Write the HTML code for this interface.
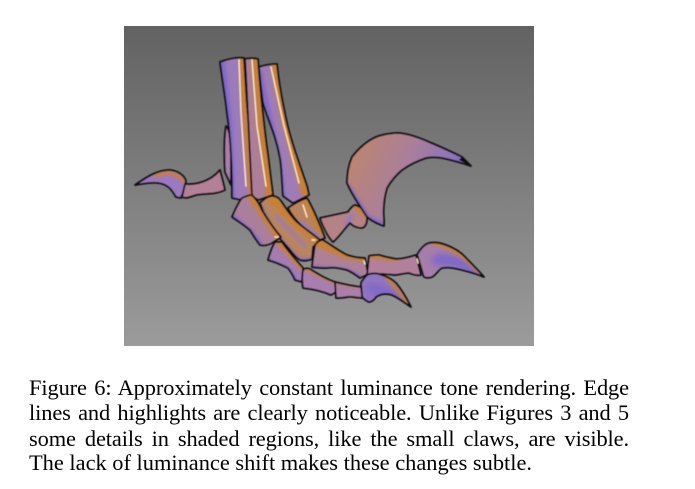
<!DOCTYPE html>
<html>
<head>
<meta charset="utf-8">
<style>
html,body{margin:0;padding:0;background:#fff;width:695px;height:489px;overflow:hidden}
svg{position:absolute;left:124px;top:26px}
.cap{position:absolute;left:29px;width:600px;font-family:"Liberation Serif",serif;font-size:22.4px;line-height:25px;color:#000;white-space:nowrap;text-align:justify;text-align-last:justify;letter-spacing:-0.1px}
.last{text-align:left;text-align-last:left;letter-spacing:0}
.o{fill:none;stroke:#08080e;stroke-width:1.8;stroke-linejoin:round}
.h{fill:none;stroke:#fbe8c6;stroke-width:1.4;stroke-linecap:round}
.or{fill:none;stroke:#c98030;filter:url(#band);stroke-linecap:round}
.pu{fill:none;stroke:#7f68cc;filter:url(#band);stroke-linecap:round}
.wide{fill:none;stroke:#7f68cc;filter:url(#wide);stroke-linecap:round}
.li{fill:none;stroke:#8f78cc;filter:url(#band);stroke-linecap:round}
</style>
</head>
<body>
<svg width="410" height="320" viewBox="124 26 410 320">
<defs>
<linearGradient id="bg" x1="0" y1="0" x2="0" y2="1"><stop offset="0" stop-color="#626262"/><stop offset="1" stop-color="#9b9b9b"/></linearGradient>
<linearGradient id="big" x1="0" y1=".3" x2=".9" y2=".6"><stop offset="0" stop-color="#bc856e"/><stop offset=".45" stop-color="#ac7f98"/><stop offset=".85" stop-color="#8e72bc"/><stop offset="1" stop-color="#7060b4"/></linearGradient>
<filter id="band" x="-40%" y="-40%" width="180%" height="180%"><feGaussianBlur stdDeviation="1.6"/></filter>
<filter id="wide" x="-60%" y="-60%" width="220%" height="220%"><feGaussianBlur stdDeviation="3.5"/></filter>
<filter id="soft" x="-5%" y="-5%" width="110%" height="110%"><feGaussianBlur stdDeviation="0.4"/></filter>
<path id="pS" d="M226,126 C230,130 231,140 231,165 L231,185 L225,172 C224,155 224,138 226,126Z"/>
<path id="pA" d="M220,62 C228,59 236,57 244,58 L247,105 L251,150 L256,195 L242,200 L232,198 C232,175 231,140 227,113 C225,95 222,78 220,62Z"/>
<path id="pB" d="M245,59 C250,58 254,58 258,59 C260,85 263,120 268,155 L273,195 L258,200 L252,196 C250,165 248,110 245,59Z"/>
<path id="pC" d="M259,67 C265,65 271,64 277,64 C279,85 283,105 287,123 C292,145 300,165 307,186 L309,195 L293,203 L283,196 C282,185 282,170 280,158 C276,135 268,120 263,103 C261,90 260,78 259,67Z"/>
<path id="pLC" d="M135,185 C148,176 158,170 170,170 C178,171 184,175 186,181 L184,190 L181,198 L176,197 C172,190 168,184 158,183 C150,182 142,184 135,185Z"/>
<path id="pLP" d="M185,184 C195,185 210,182 220,170 L225,190 C215,195 205,193 196,195 C190,197 186,199 182,197Z"/>
<path id="pF" d="M288,208 C294,204 300,200 307,198 C313,208 320,225 325,238 L320,240 C308,232 295,222 288,208Z"/>
<path id="pE" d="M260,203 C264,199 268,196 272,196 C276,196 279,198 281,201 C287,210 291,216 297,222 C305,229 313,234 320,240 L313,247 L312,259 C307,261 303,261 300,260 C296,258 293,254 290,250 C284,243 278,236 272,230 C267,222 263,212 260,203Z"/>
<path id="pD" d="M232,217 C235,210 238,203 242,198 C246,196 250,195 252,195 C256,199 260,205 262,210 C268,220 274,229 281,237 L272,243 C268,245 264,246 260,245 C256,240 253,235 250,230 C244,225 238,221 232,217Z"/>
<path id="pH" d="M268,260 C270,253 272,247 275,242 L282,242 C288,251 296,260 303,268 L302,282 L295,280 C293,275 291,272 288,268 C282,265 275,262 268,260Z"/>
<path id="pN" d="M303,270 C305,268 308,268 310,269 C318,274 326,279 335,282 L336,292 L331,295 C322,291 312,289 303,288 C302,282 302,275 303,270Z"/>
<path id="pM" d="M335,282 C343,284 352,286 361,287 L363,298 C356,298 352,296 347,297 C343,298 339,298 336,298Z"/>
<path id="pI" d="M312,267 C313,258 314,251 315,245 C317,242 320,240 323,240 C331,245 339,251 347,255 C353,257 359,258 365,258 L368,274 L360,278 C356,275 352,272 347,270 C340,268 333,267 327,268 C322,268 317,268 312,267Z"/>
<path id="pJ" d="M369,256 C373,255 376,255 379,255 C386,257 391,258 396,259 C403,259 410,257 416,255 L421,275 C416,276 412,274 409,273 C404,273 399,275 394,275 C388,274 382,274 376,274 L367,275Z"/>
<path id="pK" d="M417,255 C420,249 425,244 429,243 C435,242 441,243 446,245 C454,248 461,252 466,258 C472,264 478,270 484,277 C477,274 470,272 462,270 C455,268 448,267 442,268 C438,270 436,275 432,277 C429,278 426,278 424,277 C422,273 420,262 417,255Z"/>
<path id="pL" d="M361,283 C363,279 365,277 367,275 C371,273 375,273 379,274 C386,276 392,279 396,283 C402,290 407,299 411,307 C405,303 399,298 392,295 C386,293 380,294 376,297 C374,300 372,302 369,302 C366,301 364,299 362,297 C362,292 361,287 361,283Z"/>
<path id="pG" d="M320,218 C329,216 339,214 348,212 C350,209 352,206 355,205 C362,207 367,212 367,218 C367,224 365,227 362,228 C357,228 353,226 350,223 C344,229 339,237 333,242 C329,238 327,234 325,230 C323,226 321,222 320,218Z"/>
<path id="pO" d="M384,226 C378,224 372,221 367,217 C360,206 352,195 347,183 C347,173 349,164 352,157 C359,148 367,141 376,137 C384,134 392,133 399,133 C410,134 420,138 429,142 C441,147 452,152 462,157 C465,160 468,163 471,166 C462,163 452,160 442,158 C436,157 431,157 426,158 C417,161 409,165 402,170 C396,175 391,181 387,188 C384,198 383,209 384,220Z"/>
<clipPath id="cS"><use href="#pS"/></clipPath><clipPath id="cA"><use href="#pA"/></clipPath><clipPath id="cB"><use href="#pB"/></clipPath><clipPath id="cC"><use href="#pC"/></clipPath>
<clipPath id="cLC"><use href="#pLC"/></clipPath><clipPath id="cLP"><use href="#pLP"/></clipPath><clipPath id="cF"><use href="#pF"/></clipPath><clipPath id="cE"><use href="#pE"/></clipPath>
<clipPath id="cD"><use href="#pD"/></clipPath><clipPath id="cH"><use href="#pH"/></clipPath><clipPath id="cN"><use href="#pN"/></clipPath><clipPath id="cM"><use href="#pM"/></clipPath>
<clipPath id="cI"><use href="#pI"/></clipPath><clipPath id="cJ"><use href="#pJ"/></clipPath><clipPath id="cK"><use href="#pK"/></clipPath><clipPath id="cL"><use href="#pL"/></clipPath>
<clipPath id="cG"><use href="#pG"/></clipPath><clipPath id="cO"><use href="#pO"/></clipPath>
</defs>
<rect x="124" y="26" width="410" height="320" fill="url(#bg)"/>
<g filter="url(#soft)">

<g>
<g clip-path="url(#cS)"><use href="#pS" fill="#a97ea8"/></g><use href="#pS" class="o"/></g>

<g>
<g clip-path="url(#cA)"><use href="#pA" fill="#9d7aba"/>
<path class="pu" stroke-width="6" d="M222,62 L229,120 L232,198"/>
<path class="or" stroke-width="10" d="M243,56 L248,120 L254,198"/></g><use href="#pA" class="o"/></g>

<g>
<g clip-path="url(#cB)"><use href="#pB" fill="#ac7e9c"/>
<path class="or" stroke-width="9" d="M256,56 L262,120 L271,198"/></g><use href="#pB" class="o"/></g>

<g>
<g clip-path="url(#cC)"><use href="#pC" fill="#a07cb6"/>
<path class="pu" stroke-width="5" d="M260,72 C266,112 278,140 283,198"/>
<path class="or" stroke-width="10" d="M276,62 C280,100 292,145 307,194"/></g><use href="#pC" class="o"/></g>

<g>
<g clip-path="url(#cLC)"><use href="#pLC" fill="#9c78c0"/>
<path class="or" stroke-width="4" d="M155,175 L170,172 L186,181"/></g><use href="#pLC" class="o"/></g>

<g>
<g clip-path="url(#cLP)"><use href="#pLP" fill="#b38098"/></g><use href="#pLP" class="o"/></g>

<g>
<g clip-path="url(#cF)"><use href="#pF" fill="#b9835e"/>
<path class="or" stroke-width="8" d="M307,198 L325,238"/>
<path class="li" stroke-width="4" d="M300,222 L322,240"/></g><use href="#pF" class="o"/></g>

<g>
<g clip-path="url(#cE)"><use href="#pE" fill="#b98560"/>
<path class="or" stroke-width="11" d="M272,196 L297,222 L320,240"/>
<path class="pu" stroke-width="8" d="M258,206 L270,232 L298,262 L312,262"/>
<path class="li" stroke-width="2.5" d="M276,216 L305,246"/></g><use href="#pE" class="o"/></g>

<g>
<g clip-path="url(#cD)"><use href="#pD" fill="#ab7f9c"/>
<path class="or" stroke-width="10" d="M252,195 L262,210 L281,237"/>
<path class="pu" stroke-width="6" d="M232,217 L250,232 L260,245"/></g><use href="#pD" class="o"/></g>

<g>
<g clip-path="url(#cH)"><use href="#pH" fill="#a67cb0"/>
<path class="or" stroke-width="6" d="M277,240 L303,268"/>
<path class="pu" stroke-width="3" d="M268,260 L290,270 L297,282"/></g><use href="#pH" class="o"/></g>

<g>
<g clip-path="url(#cN)"><use href="#pN" fill="#a87eb0"/>
<path class="or" stroke-width="4" d="M305,268 L335,282"/></g><use href="#pN" class="o"/></g>

<g>
<g clip-path="url(#cM)"><use href="#pM" fill="#ac7ea8"/>
<path class="or" stroke-width="2.5" d="M336,282 L361,287"/></g><use href="#pM" class="o"/></g>

<g>
<g clip-path="url(#cI)"><use href="#pI" fill="#ae8098"/>
<path class="or" stroke-width="8" d="M318,243 L347,255 L366,258"/>
<path class="pu" stroke-width="5" d="M312,268 L347,271 L362,279"/></g><use href="#pI" class="o"/></g>

<g>
<g clip-path="url(#cJ)"><use href="#pJ" fill="#b2809a"/>
<path class="or" stroke-width="4" d="M369,256 L396,260"/>
<path class="pu" stroke-width="4" d="M376,275 L409,274"/></g><use href="#pJ" class="o"/></g>

<g>
<g clip-path="url(#cK)"><use href="#pK" fill="#a67eaa"/>
<path class="wide" stroke-width="12" d="M438,260 C455,258 468,266 482,276"/>
<path class="or" stroke-width="5" d="M432,242 C452,245 470,260 484,276"/></g><use href="#pK" class="o"/></g>

<g>
<g clip-path="url(#cL)"><use href="#pL" fill="#9274c0"/>
<path class="wide" stroke-width="10" d="M372,288 L400,298"/>
<path class="or" stroke-width="4" d="M386,276 L411,306"/></g><use href="#pL" class="o"/></g>

<g>
<g clip-path="url(#cG)"><use href="#pG" fill="#b58286"/>
<path class="li" stroke-width="4" d="M352,216 L346,224"/>
<path class="or" stroke-width="5" d="M355,205 L367,216"/></g><use href="#pG" class="o"/></g>

<g>
<g clip-path="url(#cO)"><use href="#pO" fill="url(#big)"/>
<path class="pu" stroke-width="6" d="M347,186 L367,218 L384,226"/></g><use href="#pO" class="o"/>
<path d="M462,157 L471,166 L459,160Z" fill="#08080e"/></g>

<path class="h" d="M239,60 L241,113 L246,186"/>
<path class="h" d="M252,60 L257,126 L266,186"/>
<path class="h" d="M271,67 L284,126 L299,183"/>
<path class="h" d="M303,205 L307,217"/>
<path class="h" d="M364,261 L365,264 M417,259 L418,263 M312,240 L315,240 M275,237 L278,237"/>
</g>
</svg>
<div class="cap" style="top:375px">Figure 6: Approximately constant luminance tone rendering. Edge</div>
<div class="cap" style="top:400px">lines and highlights are clearly noticeable. Unlike Figures 3 and 5</div>
<div class="cap" style="top:426px">some details in shaded regions, like the small claws, are visible.</div>
<div class="cap last" style="top:450px">The lack of luminance shift makes these changes subtle.</div>
</body>
</html>
